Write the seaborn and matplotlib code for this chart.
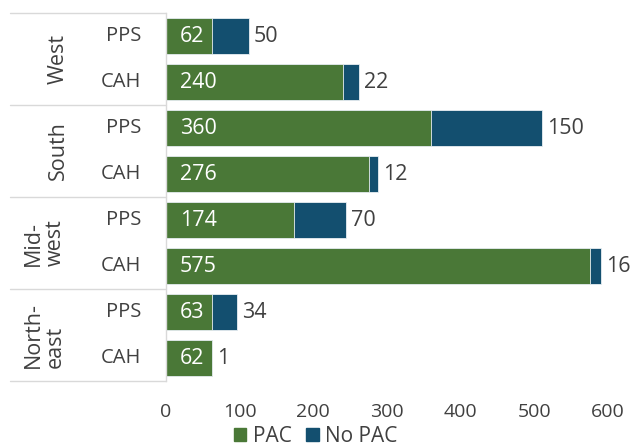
import matplotlib
matplotlib.use("Agg")
import matplotlib.pyplot as plt
import matplotlib.patches as mpatches
import matplotlib.transforms as mtransforms
import seaborn as sns
import pandas as pd

regions = ["West", "West", "South", "South", "Midwest", "Midwest", "Northeast", "Northeast"]
region_labels = ["West", "South", "Mid-\nwest", "North-\neast"]
types = ["PPS", "CAH", "PPS", "CAH", "PPS", "CAH", "PPS", "CAH"]
pac = [62, 240, 360, 276, 174, 575, 63, 62]
no_pac = [50, 22, 150, 12, 70, 16, 34, 1]
xticks = [0, 100, 200, 300, 400, 500, 600]

GREEN = "#4a7837"
BLUE = "#134f6f"
TXT = "#404040"
LINE = "#d9d9d9"

df = pd.DataFrame({"row": [f"{r} {t}" for r, t in zip(regions, types)],
                   "type": types, "pac": pac, "no_pac": no_pac})
df["total"] = df["pac"] + df["no_pac"]

sns.set_style("white")
plt.rcParams["font.family"] = ["Open Sans", "DejaVu Sans"]

fig = plt.figure(figsize=(6.31, 4.48), dpi=100)
ax = fig.add_axes([166 / 631, 1 - 381 / 448, 442 / 631, 368 / 448])

sns.barplot(data=df, y="row", x="total", color=BLUE, orient="h", width=0.8,
            edgecolor="#e8eef2", linewidth=0.6, saturation=1, ax=ax)
sns.barplot(data=df, y="row", x="pac", color=GREEN, orient="h", width=0.8,
            edgecolor="#e8eef2", linewidth=0.6, saturation=1, ax=ax)

ax.set_xlim(0, 600)
ax.set_ylim(7.5, -0.5)
ax.set_xticks(xticks)
ax.set_xticklabels([str(v) for v in xticks], fontsize=14, color=TXT)
ax.tick_params(axis="x", length=0, pad=16)
ax.set_yticks([])
ax.set_xlabel("")
ax.set_ylabel("")
for s in ["top", "right", "bottom"]:
    ax.spines[s].set_visible(False)
ax.spines["left"].set_color(LINE)
ax.spines["left"].set_linewidth(1)

# value labels
scale = 442 / 600
for i, row in df.iterrows():
    ax.text(14 / scale, i, str(row["pac"]), color="white", fontsize=15.5,
            va="center", ha="left")
    ax.text(row["total"] + 5 / scale, i, str(row["no_pac"]), color=TXT,
            fontsize=15.5, va="center", ha="left")

# category labels
trans = mtransforms.blended_transform_factory(ax.transAxes, ax.transData)
px = 1 / 442
for i, t in enumerate(types):
    ax.text(-25 * px, i, t, transform=trans, ha="right", va="center",
            fontsize=14.5, color=TXT)

rx = [58, 58, 44, 44]
for g, lab in enumerate(region_labels):
    ax.text((rx[g] - 166) * px, 2 * g + 0.5, lab, transform=trans,
            ha="center", va="center", rotation=90, fontsize=15.5,
            color=TXT, linespacing=1.05, multialignment="left")

for y in [-0.5, 1.5, 3.5, 5.5, 7.5]:
    ax.plot([(10 - 166) * px, 0], [y, y], transform=trans, color=LINE,
            lw=1, clip_on=False)

handles = [mpatches.Patch(color=GREEN, label="PAC"),
           mpatches.Patch(color=BLUE, label="No PAC")]
fig.legend(handles=handles, loc="center", bbox_to_anchor=(0.5, 1 - 436 / 448),
           ncol=2, frameon=False, fontsize=15, handlelength=0.6,
           handleheight=0.6, handletextpad=0.3, columnspacing=0.7,
           labelcolor=TXT, borderpad=0)

fig.savefig("out.png", dpi=100)
